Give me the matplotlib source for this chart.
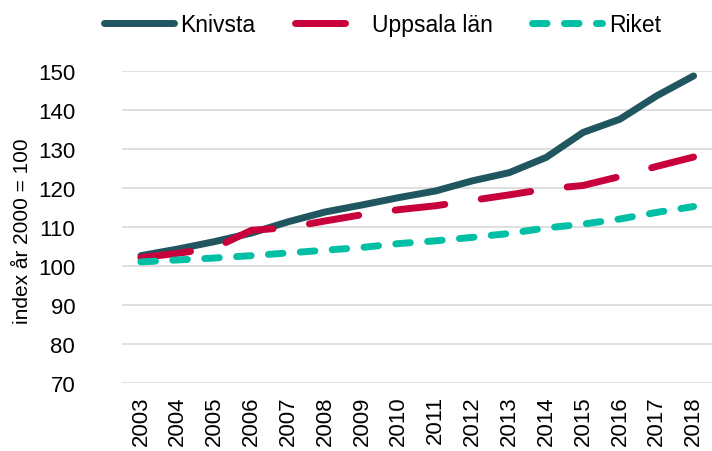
import matplotlib.pyplot as plt
import numpy as np

plt.rcParams['font.family'] = ['Liberation Sans', 'DejaVu Sans']

# Data (index, year 2000 = 100)
years = ['2003', '2004', '2005', '2006', '2007', '2008', '2009', '2010',
         '2011', '2012', '2013', '2014', '2015', '2016', '2017', '2018']
knivsta = [102.6, 104.3, 106.2, 108.4, 111.3, 113.8, 115.6, 117.5,
           119.2, 121.8, 123.9, 127.8, 134.2, 137.6, 143.6, 148.7]
uppsala = [102.1, 103.2, 104.6, 109.1, 109.8, 111.5, 113.1, 114.4,
           115.4, 116.8, 118.2, 119.7, 120.6, 122.9, 125.5, 127.9]
riket = [101.0, 101.5, 102.0, 102.6, 103.3, 104.0, 104.7, 105.7,
         106.4, 107.3, 108.3, 109.7, 110.7, 112.0, 113.7, 115.2]

x = np.arange(len(years))

fig = plt.figure(figsize=(7.12, 4.52), dpi=100)
ax = fig.add_axes([0.172, 0.151, 0.828, 0.690])

lw = 5
ax.plot(x, knivsta, color='#1F5660', lw=lw, solid_capstyle='round',
        solid_joinstyle='round', label='Knivsta', zorder=3)
ax.plot(x, uppsala, color='#C8003C', lw=lw, dashes=(7.2, 5.3),
        dash_capstyle='round', label='Uppsala län', zorder=4)
ax.plot(x, riket, color='#00BFA5', lw=lw, dashes=(2.1, 2.5),
        dash_capstyle='round', label='Riket', zorder=5)

ax.set_xlim(-0.5, len(years) - 0.5)
ax.set_ylim(70, 150)
ax.set_yticks(range(70, 151, 10))
ax.set_xticks(x)
ax.set_xticklabels(years, rotation=90)
ax.tick_params(axis='both', length=0, labelsize=16)
ax.tick_params(axis='y', pad=34)
ax.tick_params(axis='x', pad=9)
ax.grid(axis='y', color='#D9D9D9', lw=1.2)
ax.set_axisbelow(True)
for s in ax.spines.values():
    s.set_visible(False)

ax.set_ylabel('index år 2000 = 100', fontsize=15)
ax.yaxis.set_label_coords(-0.154, 0.49)

leg = fig.legend(loc='upper center', bbox_to_anchor=(0.537, 1.015), ncol=3,
                 frameon=False, fontsize=16.5, handlelength=3.05,
                 handletextpad=0.3, columnspacing=1.72)

fig.savefig('out.png', dpi=100)
